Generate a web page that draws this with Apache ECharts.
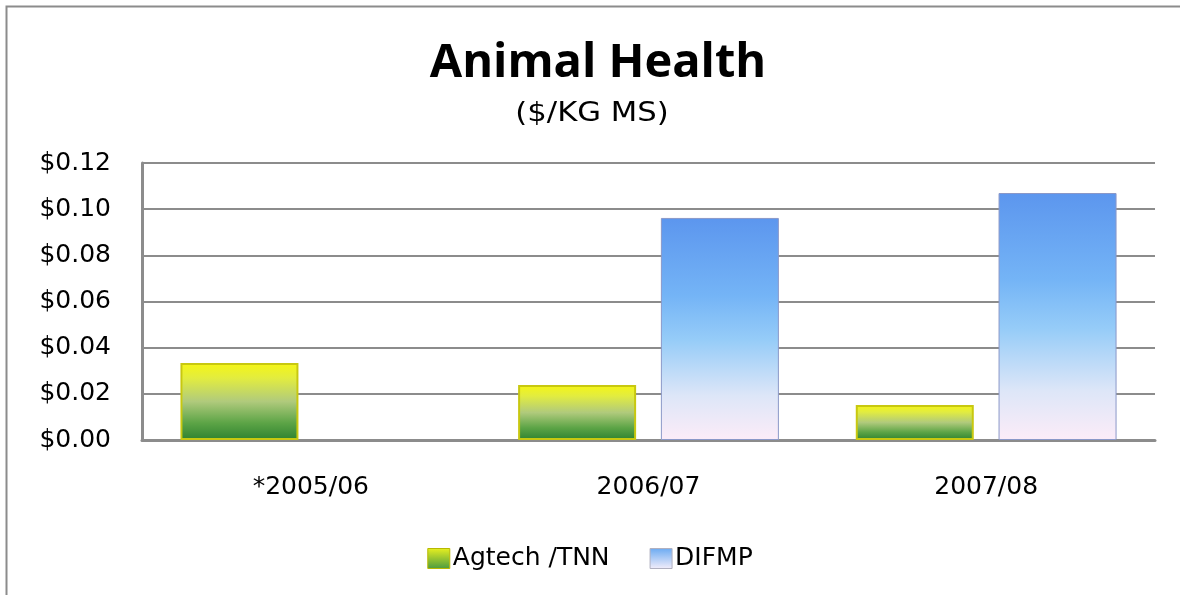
<!DOCTYPE html>
<html><head><meta charset="utf-8">
<script src="https://cdn.jsdelivr.net/npm/echarts@6/dist/echarts.min.js"></script>
<style>html,body{margin:0;padding:0;background:#fff}#c{width:1180px;height:595px}</style>
</head><body><div id="c"></div>
<script>
const categories = ['*2005/06', '2006/07', '2007/08'];
const agtech = [0.0334, 0.0238, 0.0152];
const difmp = [null, 0.0962, 0.107];
const seriesNames = ['Agtech /TNN', 'DIFMP'];
const titleText = 'Animal Health';
const subtitleText = '($/KG MS)';

const font = 'DejaVu Sans';
const greenGrad = new echarts.graphic.LinearGradient(0,0,0,1,[
  {offset:0,color:'#f6f614'},{offset:0.2,color:'#e2ec40'},{offset:0.5,color:'#b0ca7c'},
  {offset:0.78,color:'#5ca446'},{offset:1,color:'#2f8230'}]);
const blueGrad = new echarts.graphic.LinearGradient(0,0,0,1,[
  {offset:0,color:'#5c96ee'},{offset:0.35,color:'#74b4f6'},{offset:0.55,color:'#96ccf8'},
  {offset:0.8,color:'#dde6f8'},{offset:1,color:'#fcecf8'}]);
const greenIcon = new echarts.graphic.LinearGradient(0,0,0,1,[{offset:0,color:'#e8f020'},{offset:1,color:'#4a9a40'}]);
const blueIcon = new echarts.graphic.LinearGradient(0,0,0,1,[{offset:0,color:'#6aaaf2'},{offset:1,color:'#f4eefa'}]);

const chart = echarts.init(document.getElementById('c'));
chart.setOption({
  animation:false,
  backgroundColor:'#fff',
  graphic:[
    {type:'rect',shape:{x:6.5,y:6.5,width:1200,height:620},style:{fill:'none',stroke:'#8c8c8c',lineWidth:2},z:-1},
    {type:'text',x:598,y:64,style:{text:titleText,fontFamily:'Open Sans',fontWeight:'bold',fontSize:47,fill:'#000',align:'center',verticalAlign:'middle'}},
    {type:'text',x:592,y:114,scaleX:1.18,style:{text:subtitleText,fontFamily:font,fontSize:26,fill:'#000',align:'center',verticalAlign:'middle'}}
  ],
  legend:{top:541,left:'center',icon:'rect',itemWidth:22,itemHeight:20,itemGap:40,
    textStyle:{fontFamily:font,fontSize:25,color:'#000',padding:[0,0,0,-2]},
    data:[{name:seriesNames[0],itemStyle:{color:greenIcon,borderColor:'#b8b800',borderWidth:1}},
          {name:seriesNames[1],itemStyle:{color:blueIcon,borderColor:'#b0b0c0',borderWidth:1}}]},
  grid:{left:142,right:25,top:163,bottom:155,containLabel:false},
  xAxis:{type:'category',data:categories,
    axisLine:{lineStyle:{color:'#8c8c8c',width:3}},axisTick:{show:false},
    axisLabel:{fontFamily:font,fontSize:25,color:'#000',margin:35}},
  yAxis:{type:'value',min:0,max:0.12,interval:0.02,
    axisLine:{show:true,lineStyle:{color:'#8c8c8c',width:3}},axisTick:{show:false},
    splitLine:{lineStyle:{color:'#8c8c8c',width:2}},
    axisLabel:{fontFamily:font,fontSize:25,color:'#000',margin:31,
      formatter:v=>'$'+v.toFixed(2)}},
  series:[
    {name:seriesNames[0],type:'bar',data:agtech,barWidth:118,barGap:'21%',
     itemStyle:{color:greenGrad,borderColor:'#c8c810',borderWidth:2}},
    {name:seriesNames[1],type:'bar',data:difmp,barWidth:118,
     itemStyle:{color:blueGrad,borderColor:'#8a98c8',borderWidth:1}}
  ]
});
</script></body></html>
